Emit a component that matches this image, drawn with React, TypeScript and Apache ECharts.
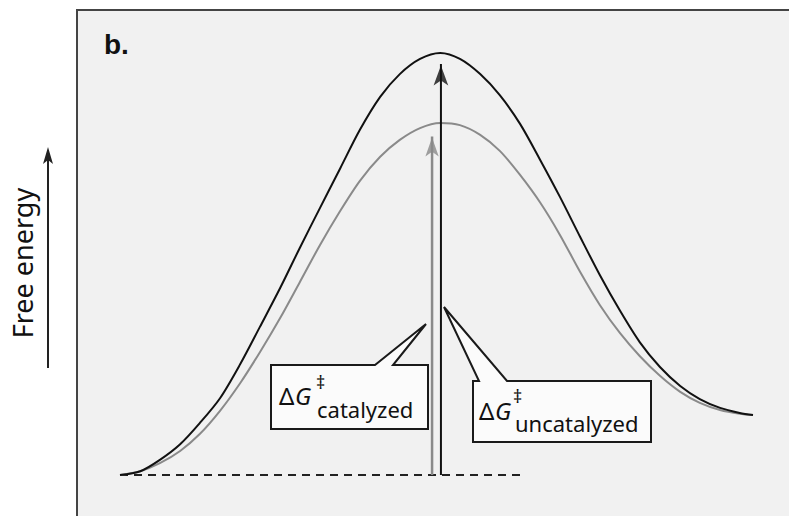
import React, { useEffect, useRef } from "react";
import * as echarts from "echarts";

// Reaction coordinate (0-100), shared by both curves
const reactionCoord = [0, 3.2, 6.3, 9.5, 12.6, 15.8, 19.0, 22.1, 25.3, 28.4, 31.6, 34.8, 37.9, 41.1, 44.2, 47.4, 50.6, 53.7, 56.9, 60.0, 63.2, 66.4, 69.5, 72.7, 75.8, 79.0, 82.1, 85.3, 88.5, 91.6, 94.8, 97.9, 100];
// Free energy (0 = reactants, 100 = uncatalyzed transition state)
const uncatalyzedG = [0, 0.9, 3.6, 7.3, 12.3, 18.2, 26.3, 35.1, 44.3, 53.8, 63.3, 72.7, 81.8, 89.6, 95.0, 98.6, 100, 98.6, 95.0, 90.0, 83.2, 74.6, 65.9, 56.4, 47.4, 38.9, 31.5, 25.6, 21.1, 18.0, 15.9, 14.7, 14.2];
const catalyzedG = [0, 0.9, 2.8, 5.7, 9.7, 15.2, 21.8, 29.1, 37.2, 45.7, 54.5, 62.6, 69.7, 75.4, 79.4, 82.2, 83.4, 82.9, 80.6, 76.8, 71.1, 64.5, 56.9, 48.1, 40.3, 33.6, 28.2, 23.5, 19.7, 17.1, 15.4, 14.5, 14.2];

const baselineX = [0, 63.7];
const baselineG = [0, 0];
const uncatalyzedArrowX = 50.7;
const uncatalyzedArrowTop = 99.4;
const catalyzedArrowX = 49.3;
const catalyzedArrowTop = 82.2;

const panelLabel = "b.";
const yAxisTitle = "Free energy";
const catalyzedSub = "catalyzed";
const uncatalyzedSub = "uncatalyzed";

const pairs = (xs: number[], ys: number[]) => xs.map((x, i) => [x, ys[i]]);

export default function App() {
  const ref = useRef<HTMLDivElement>(null);
  useEffect(() => {
    if (!ref.current) return;
    const chart = echarts.init(ref.current, null, { renderer: "svg" });
    const sans = '"Noto Sans", "Open Sans", sans-serif';
    const calloutStyle = { fill: "#fbfbfb", stroke: "#1a1a1a", lineWidth: 2 };
    const txt = (x: number, y: number, text: string, font: string) => ({
      type: "text",
      z: 21,
      x,
      y,
      style: {
        text,
        font,
        fill: "#111",
        align: "left",
        verticalAlign: "middle",
        textAlign: "left",
        textVerticalAlign: "middle",
      },
    });
    chart.setOption({
      animation: false,
      backgroundColor: "#ffffff",
      grid: { left: 120, right: 36, top: 53, bottom: 41 },
      xAxis: { type: "value", min: 0, max: 100, show: false },
      yAxis: { type: "value", min: 0, max: 100, show: false },
      graphic: [
        {
          type: "rect",
          z: -10,
          shape: { x: 77, y: 10, width: 800, height: 600 },
          style: { fill: "#f1f1f1", stroke: "#444", lineWidth: 2 },
        },
        {
          type: "text",
          z: 10,
          x: 104,
          y: 44,
          style: {
            text: panelLabel,
            font: 'bold 28px "Liberation Sans", Arial, sans-serif',
            fill: "#111",
            align: "left",
            verticalAlign: "middle",
            textAlign: "left",
            textVerticalAlign: "middle",
          },
        },
        {
          type: "text",
          z: 10,
          x: 22,
          y: 263,
          rotation: Math.PI / 2,
          style: {
            text: yAxisTitle,
            font: `27px ${sans}`,
            fill: "#111",
            align: "center",
            verticalAlign: "middle",
            textAlign: "center",
            textVerticalAlign: "middle",
          },
        },
        {
          type: "line",
          z: 10,
          shape: { x1: 48, y1: 368, x2: 48, y2: 158 },
          style: { stroke: "#222", lineWidth: 2 },
        },
        {
          type: "polygon",
          z: 10,
          shape: { points: [[48, 147], [53, 164], [48, 160], [43, 164]] },
          style: { fill: "#222" },
        },
        // catalyzed callout
        {
          type: "polygon",
          z: 20,
          shape: {
            points: [[271, 365], [375, 365], [426, 324], [393, 365], [428, 365], [428, 429], [271, 429]],
          },
          style: calloutStyle,
        },
        txt(279, 395, "Δ", `24px ${sans}`),
        txt(295, 395, "G", `italic 24px ${sans}`),
        txt(316, 382, "‡", `18px ${sans}`),
        txt(317, 409, catalyzedSub, `22px ${sans}`),
        // uncatalyzed callout
        {
          type: "polygon",
          z: 20,
          shape: {
            points: [[473, 381], [479, 381], [444, 307], [507, 381], [651, 381], [651, 442], [473, 442]],
          },
          style: calloutStyle,
        },
        txt(479, 410, "Δ", `24px ${sans}`),
        txt(495, 410, "G", `italic 24px ${sans}`),
        txt(513, 396, "‡", `18px ${sans}`),
        txt(515, 423, uncatalyzedSub, `22px ${sans}`),
      ],
      series: [
        {
          type: "line",
          data: pairs(baselineX, baselineG),
          showSymbol: false,
          lineStyle: { color: "#222", width: 2, type: [8, 6] },
          z: 3,
        },
        {
          type: "line",
          data: pairs(reactionCoord, catalyzedG),
          smooth: 0.3,
          showSymbol: false,
          lineStyle: { color: "#8a8a8a", width: 2 },
          z: 4,
        },
        {
          type: "line",
          data: pairs(reactionCoord, uncatalyzedG),
          smooth: 0.3,
          showSymbol: false,
          lineStyle: { color: "#111", width: 2 },
          z: 5,
        },
        {
          type: "line",
          data: [[catalyzedArrowX, 0], [catalyzedArrowX, catalyzedArrowTop - 2]],
          showSymbol: false,
          lineStyle: { color: "#8a8a8a", width: 2.5 },
          z: 6,
        },
        {
          type: "line",
          data: [[uncatalyzedArrowX, 0], [uncatalyzedArrowX, uncatalyzedArrowTop - 2]],
          showSymbol: false,
          lineStyle: { color: "#111", width: 2 },
          z: 7,
        },
        {
          type: "scatter",
          data: [[catalyzedArrowX, catalyzedArrowTop]],
          symbol: "arrow",
          symbolSize: [10, 19],
          symbolOffset: [0, "50%"],
          itemStyle: { color: "#8a8a8a" },
          z: 8,
        },
        {
          type: "scatter",
          data: [[uncatalyzedArrowX, uncatalyzedArrowTop]],
          symbol: "arrow",
          symbolSize: [11, 20],
          symbolOffset: [0, "50%"],
          itemStyle: { color: "#111" },
          z: 9,
        },
      ],
    });
    return () => chart.dispose();
  }, []);
  return (
    <div
      ref={ref}
      style={{ position: "fixed", left: 0, top: 0, width: 789, height: 516 }}
    />
  );
}
